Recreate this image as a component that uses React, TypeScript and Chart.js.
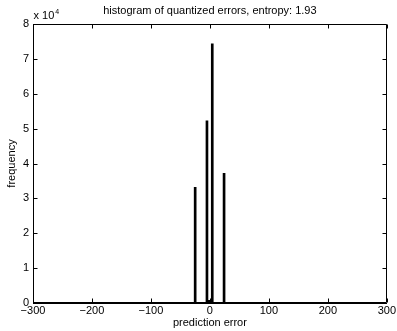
import React, { useEffect, useRef } from "react";
import { Chart, registerables } from "chart.js";

Chart.register(...registerables);

const binCenters = [-25, -5, -1, 4, 24];
const frequencies = [33200, 52200, 800, 74300, 37200];
const xTickValues = [-300, -200, -100, 0, 100, 200, 300];
const yTickValues = [0, 10000, 20000, 30000, 40000, 50000, 60000, 70000, 80000];
const titleText = "histogram of quantized errors, entropy: 1.93";
const xLabel = "prediction error";
const yLabel = "frequency";
const exponentBase = "x 10";
const exponentPower = "4";

const FONT = "'Liberation Sans', Arial, Helvetica, sans-serif";

const fmt = (v: number) => (v < 0 ? "\u2212" + Math.abs(v) : String(v));

const boxPlugin = {
  id: "matlabBox",
  afterDraw(chart: any) {
    const { ctx, chartArea, scales } = chart;
    const { left, right, top, bottom } = chartArea;
    ctx.save();
    ctx.strokeStyle = "#000";
    ctx.lineWidth = 1;
    const L = Math.round(left) + 0.5;
    const R = Math.round(right) - 0.5;
    const T = Math.round(top) + 0.5;
    const B = Math.round(bottom) - 0.5;
    ctx.beginPath();
    ctx.rect(L, T, R - L, B - T);
    const tl = 4;
    xTickValues.forEach((v) => {
      const px = Math.round(scales.x.getPixelForValue(v)) + 0.5;
      ctx.moveTo(px, B);
      ctx.lineTo(px, B - tl);
      ctx.moveTo(px, T);
      ctx.lineTo(px, T + tl);
    });
    yTickValues.forEach((v) => {
      const py = Math.round(scales.y.getPixelForValue(v)) + 0.5;
      ctx.moveTo(L, py);
      ctx.lineTo(L + tl, py);
      ctx.moveTo(R, py);
      ctx.lineTo(R - tl, py);
    });
    ctx.stroke();
    // exponent label
    ctx.fillStyle = "#000";
    ctx.textBaseline = "alphabetic";
    ctx.textAlign = "left";
    ctx.font = `11px ${FONT}`;
    ctx.fillText(exponentBase, L, 19);
    const w = ctx.measureText(exponentBase).width;
    ctx.font = `7px ${FONT}`;
    ctx.fillText(exponentPower, L + w + 1, 14);
    ctx.restore();
  },
};

export default function App() {
  const ref = useRef<HTMLCanvasElement>(null);
  useEffect(() => {
    document.body.style.margin = "0";
    const chart = new Chart(ref.current as HTMLCanvasElement, {
      type: "bar",
      data: {
        datasets: [
          {
            data: binCenters.map((x, i) => ({ x, y: frequencies[i] })),
            backgroundColor: "#000",
            borderWidth: 0,
            barThickness: 2,
          },
        ],
      },
      options: {
        responsive: false,
        animation: false,
        devicePixelRatio: 1,
        layout: { padding: { top: 0, right: 10, bottom: 0, left: 0 } },
        plugins: {
          legend: { display: false },
          tooltip: { enabled: false },
          title: {
            display: true,
            text: titleText,
            fullSize: false,
            color: "#000",
            font: { family: FONT, size: 11, weight: "normal" },
            padding: { top: 4, bottom: 6.8 },
          },
        },
        scales: {
          x: {
            type: "linear",
            min: -300,
            max: 300,
            offset: false,
            afterBuildTicks: (s: any) => {
              s.ticks = xTickValues.map((value) => ({ value }));
            },
            afterFit: (s: any) => {
              s.height = 28;
            },
            ticks: {
              color: "#000",
              font: { family: FONT, size: 11 },
              padding: 1,
              maxRotation: 0,
              autoSkip: false,
              callback: (v: any) => fmt(Number(v)),
            },
            grid: { display: false, drawTicks: false },
            border: { display: true, color: "#000", width: 1 },
            title: {
              display: true,
              text: xLabel,
              color: "#000",
              font: { family: FONT, size: 11 },
              padding: { top: 0, bottom: 1.5 },
            },
          },
          y: {
            type: "linear",
            min: 0,
            max: 80000,
            afterBuildTicks: (s: any) => {
              s.ticks = yTickValues.map((value) => ({ value }));
            },
            afterFit: (s: any) => {
              s.width = 33;
            },
            ticks: {
              color: "#000",
              font: { family: FONT, size: 11 },
              padding: 4,
              autoSkip: false,
              callback: (v: any) => String(Number(v) / 10000),
            },
            grid: { display: false, drawTicks: false },
            border: { display: true, color: "#000", width: 1 },
            title: {
              display: true,
              text: yLabel,
              color: "#000",
              font: { family: FONT, size: 11 },
              padding: { top: 5.5, bottom: 0 },
            },
          },
        },
      },
      plugins: [boxPlugin],
    } as any);
    return () => chart.destroy();
  }, []);
  return (
    <div style={{ position: "absolute", left: 0, top: 0, width: 397, height: 331, background: "#fff" }}>
      <canvas ref={ref} width={397} height={331} style={{ display: "block" }} />
    </div>
  );
}
